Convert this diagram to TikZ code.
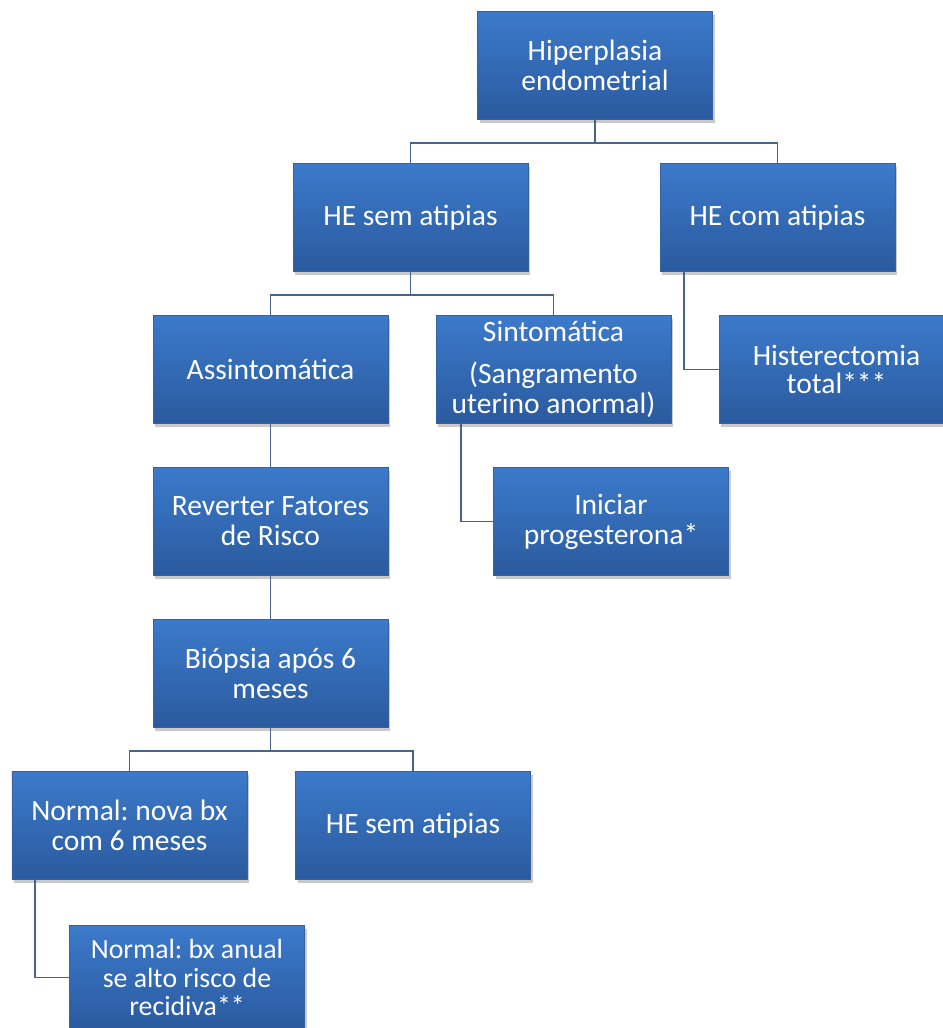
\documentclass[tikz,border=0pt]{standalone}
\usepackage{fontspec}
\setmainfont{Carlito}
\usepackage{tikz}
\usetikzlibrary{positioning,shadows}
\definecolor{boxtop}{RGB}{60,122,203}
\definecolor{boxbot}{RGB}{42,90,158}
\definecolor{boxline}{RGB}{52,98,162}
\definecolor{linkline}{RGB}{72,100,138}
\frenchspacing

\begin{document}
\begin{tikzpicture}[
    node distance=3.04cm,
    font=\fontsize{16.8}{17}\selectfont,
    hbox/.style={
		rectangle,
		draw=boxline,
		top color=boxtop,
		bottom color=boxbot,
		text=white,
		align=center,
		minimum height=2.16cm,
		minimum width=4.7cm,
		inner sep=2pt,
		drop shadow={shadow xshift=0.04cm, shadow yshift=-0.07cm, opacity=0.3, fill=black!70}
	},
	link/.style={
		draw=linkline,
		line width=1.1pt
	}
  ]
 \useasboundingbox (0,0) rectangle (18.84,-20.56);

 \node [hbox] (root) at (11.9,-1.31) {Hiperplasia\\endometrial};

 \node [hbox, below of=root, xshift=-3.69cm] (hesem)  {HE sem atipias};
 \node [hbox, below of=root, xshift=3.65cm] (hecom)  {HE com atipias};

 \node [hbox, below of=hesem, xshift=-2.8cm] (assint)  {Assintomática};
 \node [hbox, below of=hesem, xshift=2.86cm] (sint)  {Sintomática\\[0.24cm](Sangramento\\uterino anormal)};
 \node [hbox, below of=hecom, xshift=1.18cm, font=\fontsize{16.8}{16.2}\selectfont] (hister)  {Histerectomia\\total***};

 \node [hbox, below of=assint] (reverter)  {Reverter Fatores\\de Risco};
 \node [hbox, below of=sint, xshift=1.15cm] (iniciar)  {Iniciar\\progesterona*};

 \node [hbox, below of=reverter] (biopsia)  {Biópsia após 6\\meses};

 \node [hbox, below of=biopsia, xshift=-2.82cm] (normal1)  {Normal: nova bx\\com 6 meses};
 \node [hbox, below of=biopsia, xshift=2.85cm] (hesem2)  {HE sem atipias};

 \node [hbox, below of=normal1, xshift=1.15cm, minimum height=2.08cm,
        font=\fontsize{15.8}{16}\selectfont] (anual)
 {Normal: bx anual\\se alto risco de\\recidiva**};

% // links
 \draw [link] (root.south) -- ++(0,-0.46) -| (hesem.north);
 \draw [link] (root.south) -- ++(0,-0.46) -| (hecom.north);

 \draw [link] (hesem.south) -- ++(0,-0.46) -| (assint.north);
 \draw [link] (hesem.south) -- ++(0,-0.46) -| (sint.north);
 \draw [link] ([xshift=0.48cm]hecom.south west) |- (hister.west);

 \draw [link] (assint) -- (reverter);
 \draw [link] ([xshift=0.5cm]sint.south west) |- (iniciar.west);
 \draw [link] (reverter) -- (biopsia);

 \draw [link] (biopsia.south) -- ++(0,-0.46) -| (normal1.north);
 \draw [link] (biopsia.south) -- ++(0,-0.46) -| (hesem2.north);
 \draw [link] ([xshift=0.46cm]normal1.south west) |- (anual.west);

\end{tikzpicture}
\end{document}
